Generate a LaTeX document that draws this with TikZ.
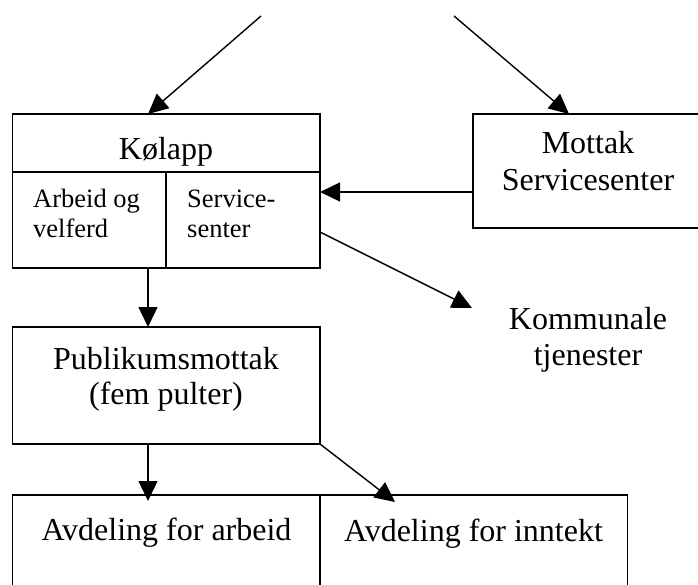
\documentclass[tikz,border=0pt]{standalone}
\usepackage{fontspec}
\setmainfont{Liberation Serif}
\usetikzlibrary{arrows.meta}
\begin{document}
\begin{tikzpicture}[x=1pt,y=-1pt,
  box/.style={draw,line width=1.5pt,inner sep=0pt,outer sep=0pt},
  bigtxt/.style={inner sep=0pt,anchor=base,font=\fontsize{32}{37}\selectfont},
  smalltxt/.style={inner sep=0pt,anchor=base west,font=\fontsize{26.5}{30}\selectfont},
  conn/.style={line width=1.4pt,-{Triangle[length=20pt,width=19pt]}}]
\clip (0,0) rectangle (698,585);
% boxes
\node[box,minimum width=307.5pt,minimum height=154pt] (kol) at (166.25,191) {};
\node[box,minimum width=300pt,minimum height=114pt] (mot) at (623,171) {};
\node[box,minimum width=307.5pt,minimum height=117pt] (pub) at (166.25,385.5) {};
\node[box,minimum width=307.5pt,minimum height=150pt] (arb) at (166.25,570) {};
\node[box,minimum width=307.5pt,minimum height=150pt] (inn) at (473.75,570) {};
% Kølapp internal lines
\draw[line width=1.5pt] (kol.west |- 0,172) -- (kol.east |- 0,172);
\draw[line width=1.5pt] (166,172) -- (kol.south -| 166,0);
% texts
\node[bigtxt] (tkol) at (166,159.5) {Kølapp};
\node[smalltxt] (tarb1) at (33,208) {Arbeid og};
\node[smalltxt] (tarb2) at (33,238) {velferd};
\node[smalltxt] (tser1) at (187,208) {Service-};
\node[smalltxt] (tser2) at (187,238) {senter};
\node[bigtxt] (tmot1) at (588,154) {Mottak};
\node[bigtxt] (tmot2) at (588,191) {Servicesenter};
\node[bigtxt] (tkom1) at (588,329) {Kommunale};
\node[bigtxt] (tkom2) at (588,365) {tjenester};
\node[bigtxt] (tpub1) at (166,369) {Publikumsmottak};
\node[bigtxt] (tpub2) at (166,404) {(fem pulter)};
\node[bigtxt] (tavd1) at (166.5,540) {Avdeling for arbeid};
\node[bigtxt] (tavd2) at (473.5,541) {Avdeling for inntekt};
% connector end points
\coordinate (topl) at (261,16);
\coordinate (topr) at (454,16);
\coordinate (kolin) at (148,114);
\coordinate (motin) at (569,114);
\coordinate (motout) at (473,192);
\coordinate (kolr) at (320,192);
\coordinate (kolr2) at (320,232);
\coordinate (komin) at (472,308);
\coordinate (kolb) at (148,268);
\coordinate (pubt) at (148,327);
\coordinate (pubb) at (148,444);
\coordinate (arbt) at (148,501);
\coordinate (pubc) at (320,444);
\coordinate (innt) at (395,502);
% connectors
\draw[conn] (topl) -- (kolin);
\draw[conn] (topr) -- (motin);
\draw[conn] (motout) -- (kolr);
\draw[conn] (kolr2) -- (komin);
\draw[conn] (kolb) -- (pubt);
\draw[conn] (pubb) -- (arbt);
\draw[conn] (pubc) -- (innt);
\end{tikzpicture}
\end{document}
